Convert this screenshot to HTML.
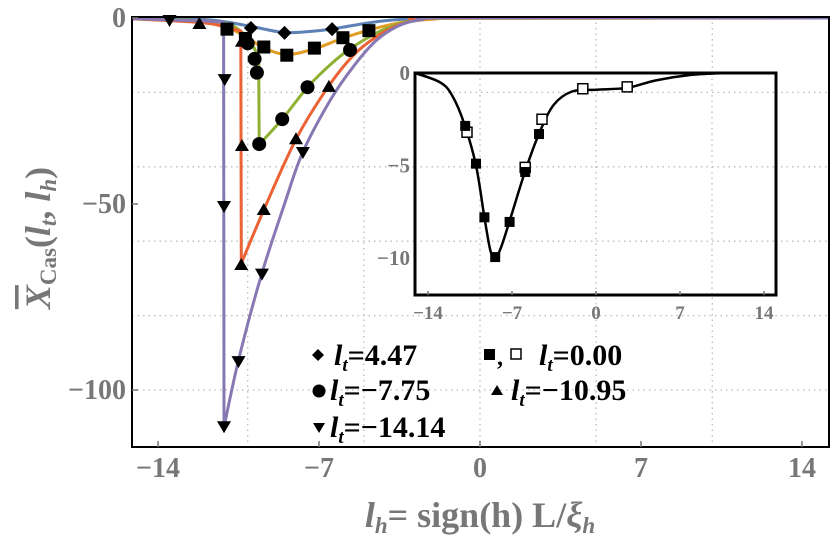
<!DOCTYPE html>
<html><head><meta charset="utf-8"><style>
body{margin:0;background:#fff}
svg text{font-family:"Liberation Serif",serif;font-weight:bold}
</style></head><body>
<svg width="830" height="539" xmlns="http://www.w3.org/2000/svg">
<g id="grid"></g>
<g id="curves"></g>
<g id="marks"></g>
<rect x="132" y="17" width="697" height="430" fill="none" stroke="#000" stroke-width="2"/>
<g id="axes"></g>
<text x="0" y="0" transform="translate(50,238) rotate(-90)" text-anchor="middle" font-size="36" fill="#777"><tspan font-style="italic" text-decoration="overline">X</tspan><tspan font-size="23" dy="6">Cas</tspan><tspan dy="-6">(</tspan><tspan font-style="italic">l</tspan><tspan font-size="23" font-style="italic" dy="6">t</tspan><tspan dy="-6">, </tspan><tspan font-style="italic">l</tspan><tspan font-size="23" font-style="italic" dy="6">h</tspan><tspan dy="-6">)</tspan></text>
<text x="480" y="527" text-anchor="middle" font-size="36" fill="#777"><tspan font-style="italic">l</tspan><tspan font-size="23" font-style="italic" dy="6">h</tspan><tspan dy="-6">= sign(h) L/</tspan><tspan font-style="italic">ξ</tspan><tspan font-size="23" font-style="italic" dy="6">h</tspan></text>
<g id="inset"></g>
<g id="legend" font-size="30" fill="#000">
 <g><path d="M318,349 l6,6 -6,6 -6,-6z"/><text x="334" y="365"><tspan font-style="italic">l</tspan><tspan font-size="19" font-style="italic" dy="6">t</tspan><tspan dy="-6">=4.47</tspan></text></g>
 <g><rect x="484" y="349" width="11" height="11"/><text x="497" y="365" font-size="24">,</text><rect x="511" y="349" width="10" height="10" fill="#fff" stroke="#000" stroke-width="1.5"/><text x="539" y="365"><tspan font-style="italic">l</tspan><tspan font-size="19" font-style="italic" dy="6">t</tspan><tspan dy="-6">=0.00</tspan></text></g>
 <g><circle cx="319" cy="391" r="6.5"/><text x="330" y="400"><tspan font-style="italic">l</tspan><tspan font-size="19" font-style="italic" dy="6">t</tspan><tspan dy="-6">=−7.75</tspan></text></g>
 <g><path d="M497,385 l6,10 h-12z"/><text x="511" y="400"><tspan font-style="italic">l</tspan><tspan font-size="19" font-style="italic" dy="6">t</tspan><tspan dy="-6">=−10.95</tspan></text></g>
 <g><path d="M313,423 h12 l-6,10z"/><text x="330" y="437"><tspan font-style="italic">l</tspan><tspan font-size="19" font-style="italic" dy="6">t</tspan><tspan dy="-6">=−14.14</tspan></text></g>
</g>
</svg>
<script>
const xTicks=[-14,-7,0,7,14];
const yTicks=[0,-50,-100];
const gridX=[-10.1,-5.05,0,5.05,10.1];
const gridY=[-20,-40,-60,-80,-100];
const seriesNames=["4.47","0.00","-7.75","-10.95","-14.14"];
const seriesColors=["#5E81B5","#E19C24","#8FB032","#EB6235","#8778B3"];
const curveBlue=[[-16,0],[-12,-0.4],[-10,-2.2],[-8.5,-3.9],[-7,-3.4],[-6,-2.5],[-4.5,-1],[-3,-0.2],[-1,0],[16,0]];
const curveOrange=[[-16,0],[-12.5,-0.8],[-11,-2.6],[-10.2,-5],[-9.4,-8],[-8.4,-9.8],[-7.2,-8.3],[-6,-5.5],[-4.8,-3.2],[-3.5,-1.3],[-2,-0.3],[0,-0.1],[16,0]];
const curveGreen=[[-16,0],[-12,-0.8],[-10.8,-2],[-10.1,-5.5],[-9.75,-9],[-9.62,-12],[-9.6,-34],[-8.6,-27.2],[-7.5,-18.6],[-6.5,-12.5],[-5.65,-8.3],[-4.5,-4],[-3.5,-1.5],[-2.5,-0.3],[-1.5,0],[16,0]];
const curveRed=[[-16,0],[-12.2,-1.2],[-11,-2.5],[-10.4,-3.5],[-10.38,-66],[-9.4,-51.6],[-8,-32.6],[-6.6,-18.5],[-5.5,-10],[-4.5,-5],[-3.5,-1.8],[-2.5,-0.3],[-1.5,0],[16,0]];
const curvePurple=[[-16,0],[-13.5,-0.5],[-11.8,-0.9],[-11.15,-1.2],[-11.13,-110],[-10.5,-92],[-9.5,-69],[-8.5,-50],[-7.7,-36],[-6.5,-22],[-5.5,-13],[-4.5,-6],[-3.5,-2],[-2.5,-0.4],[-1,0],[16,0]];
const ptsBlue=[[-9.96,-2.7],[-8.5,-4.0],[-6.43,-3.0]];
const ptsOrange=[[-11.0,-3],[-10.2,-5.5],[-9.4,-7.8],[-8.4,-10],[-7.2,-8.1],[-5.96,-5.3],[-4.83,-3.4]];
const ptsGreen=[[-10.1,-6.8],[-9.8,-11],[-9.7,-14.7],[-9.6,-33.9],[-8.6,-27.2],[-7.5,-18.6],[-5.65,-8.6]];
const ptsRed=[[-12.2,-1.6],[-10.35,-6.4],[-10.35,-34.4],[-10.38,-66.4],[-9.4,-51.6],[-8.0,-32.6],[-6.57,-18.5]];
const ptsPurple=[[-13.5,-0.8],[-11.1,-16.7],[-11.13,-50.8],[-11.13,-110],[-10.5,-92.5],[-9.48,-69],[-7.7,-36.3]];
const insetCurve=[[-15.1,0],[-13,-0.5],[-12,-1.2],[-11,-2.7],[-10,-5],[-9.3,-7.8],[-8.8,-9.6],[-8.4,-10],[-7.9,-9.4],[-7.2,-8],[-5.9,-5.3],[-4.7,-3.2],[-3.5,-1.7],[-2,-1],[0,-0.9],[2.6,-0.8],[5,-0.4],[8,-0.1],[11,0]];
const insetFilled=[[-10.9,-2.86],[-10.0,-4.9],[-9.3,-7.8],[-8.4,-9.95],[-7.2,-8.05],[-5.9,-5.35],[-4.75,-3.3]];
const insetOpen=[[-10.75,-3.2],[-5.9,-5.1],[-4.5,-2.5],[-1.1,-0.85],[2.6,-0.75]];
const insetXTicks=[-14,-7,0,7,14];
const insetYTicks=[0,-5,-10];

const NS="http://www.w3.org/2000/svg";
const X=l=>480+23*l, Y=v=>18-3.72*v;
const IX=l=>596+12*l, IY=v=>73-18.5*v;
function mk(tag,attrs,parent){const e=document.createElementNS(NS,tag);for(const k in attrs)e.setAttribute(k,attrs[k]);parent.appendChild(e);return e;}
// smooth path: catmull-rom within runs, straight at vertical drops
function smooth(pts){
 let d='M'+pts[0][0].toFixed(1)+','+pts[0][1].toFixed(1);
 for(let i=0;i<pts.length-1;i++){
  const p1=pts[i],p2=pts[i+1];
  if(Math.abs(p2[0]-p1[0])<2){d+='L'+p2[0].toFixed(1)+','+p2[1].toFixed(1);continue;}
  let p0=pts[i-1]||p1,p3=pts[i+2]||p2;
  if(Math.abs(p1[0]-p0[0])<2)p0=p1;
  if(Math.abs(p3[0]-p2[0])<2)p3=p2;
  const c1=[p1[0]+(p2[0]-p0[0])/6,p1[1]+(p2[1]-p0[1])/6];
  const c2=[p2[0]-(p3[0]-p1[0])/6,p2[1]-(p3[1]-p1[1])/6];
  d+='C'+c1.map(v=>v.toFixed(1)).join(',')+' '+c2.map(v=>v.toFixed(1)).join(',')+' '+p2[0].toFixed(1)+','+p2[1].toFixed(1);
 }
 return d;}
const grid=document.getElementById('grid');
gridX.forEach(g=>{const e=mk('line',{x1:X(g),x2:X(g),y1:17,y2:447,stroke:'#bbb','stroke-width':1.3,'stroke-dasharray':'1.5 4'},grid);

});
gridY.forEach(g=>{const e=mk('line',{x1:132,x2:829,y1:Y(g),y2:Y(g),stroke:'#bbb','stroke-width':1.3,'stroke-dasharray':'1.5 4'},grid);

});
const curves=document.getElementById('curves');
mk('clipPath',{id:'pc'},curves);
mk('rect',{x:132,y:17,width:697,height:430},document.getElementById('pc'));
const allCurves=[curveBlue,curveOrange,curveGreen,curveRed,curvePurple];
allCurves.forEach((c,i)=>{const d=smooth(c.map(p=>[X(p[0]),Y(p[1])]));
const e=mk('path',{d:d,fill:'none',stroke:seriesColors[i],'stroke-width':3,'stroke-linejoin':'round','clip-path':'url(#pc)'},curves);

});
const marks=document.getElementById('marks');
function marker(type,x,y,parent){
 let e;
 if(type==='diamond')e=mk('path',{d:`M${x},${y-7}l7,7-7,7-7,-7z`},parent);
 else if(type==='square')e=mk('rect',{x:x-6.5,y:y-6.5,width:13,height:13},parent);
 else if(type==='circle')e=mk('circle',{cx:x,cy:y,r:7},parent);
 else if(type==='up')e=mk('path',{d:`M${x},${y-7}l7,12h-14z`},parent);
 else e=mk('path',{d:`M${x-7},${y-6}h14l-7,12z`},parent);
 return e;}
const types=['diamond','square','circle','up','down'];
[ptsBlue,ptsOrange,ptsGreen,ptsRed,ptsPurple].forEach((pts,i)=>pts.forEach(p=>{const e=marker(types[i],X(p[0]),Y(p[1]),marks);
e.setAttribute('fill','#000');

}));
const axes=document.getElementById('axes');
xTicks.forEach(t=>{mk('line',{x1:X(t),x2:X(t),y1:447,y2:441,stroke:'#777','stroke-width':1.5},axes);
const e=mk('text',{x:X(t),y:477,'text-anchor':'middle','font-size':28,fill:'#777'},axes);e.textContent=t<0?'−'+(-t):t;

});
yTicks.forEach(t=>{mk('line',{x1:132,x2:138,y1:Y(t),y2:Y(t),stroke:'#777','stroke-width':1.5},axes);
const e=mk('text',{x:126,y:Y(t)+9,'text-anchor':'end','font-size':28,fill:'#777'},axes);e.textContent=t<0?'−'+(-t):t;

});
// inset
const ins=document.getElementById('inset');
mk('rect',{x:415,y:73,width:361,height:222,fill:'#fff'},ins);
[480,596,712].forEach(px=>mk('line',{x1:px,x2:px,y1:73,y2:295,stroke:'#bbb','stroke-width':1.3,'stroke-dasharray':'1.5 4'},ins));
[92.4,166.8,241.2].forEach(py=>mk('line',{x1:415,x2:776,y1:py,y2:py,stroke:'#bbb','stroke-width':1.3,'stroke-dasharray':'1.5 4'},ins));
const ic=mk('path',{d:smooth(insetCurve.map(p=>[IX(p[0]),IY(p[1])])),fill:'none',stroke:'#000','stroke-width':2.5,'stroke-linejoin':'round'},ins);


insetOpen.forEach(p=>{const e=mk('rect',{x:IX(p[0])-5,y:IY(p[1])-5,width:10,height:10,fill:'#fff',stroke:'#000','stroke-width':1.5},ins);

});
insetFilled.forEach(p=>{const e=mk('rect',{x:IX(p[0])-5,y:IY(p[1])-5,width:10,height:10,fill:'#000'},ins);

});
mk('rect',{x:415,y:73,width:361,height:222,fill:'none',stroke:'#000','stroke-width':3},ins);
insetXTicks.forEach(t=>{mk('line',{x1:IX(t),x2:IX(t),y1:295,y2:291,stroke:'#777','stroke-width':1.5},ins);
const e=mk('text',{x:IX(t),y:319,'text-anchor':'middle','font-size':19,fill:'#777','font-weight':'normal'},ins);e.textContent=t<0?'−'+(-t):t;

});
insetYTicks.forEach(t=>{const e=mk('text',{x:410,y:IY(t)+7,'text-anchor':'end','font-size':21,fill:'#777','font-weight':'normal'},ins);e.textContent=t<0?'−'+(-t):t;

});
</script>
</body></html>
